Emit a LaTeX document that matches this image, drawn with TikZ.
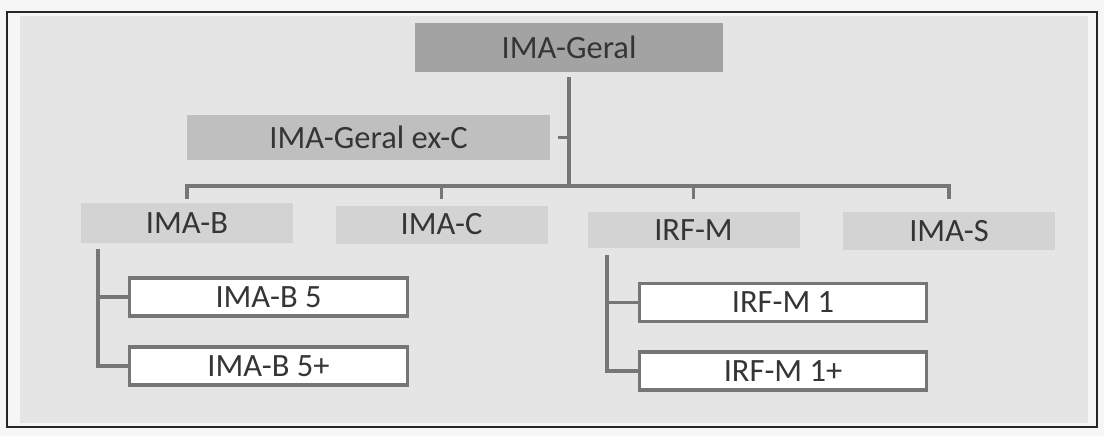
\documentclass[tikz,border=0pt]{standalone}
\usepackage{fontspec}
\setmainfont{Carlito}
\definecolor{pagebg}{HTML}{F6F6F6}
\definecolor{panelbg}{HTML}{E5E5E5}
\definecolor{topfill}{HTML}{A3A3A3}
\definecolor{midfill}{HTML}{BFBFBF}
\definecolor{lowfill}{HTML}{D3D3D3}
\definecolor{linecol}{HTML}{767676}
\definecolor{txtcol}{HTML}{353535}
\begin{document}
\begin{tikzpicture}[x=1pt,y=-1pt,
  lbl/.style={font=\fontsize{32.5}{35}\selectfont, text=txtcol, inner sep=0pt, anchor=center},
  topbox/.style={lbl, fill=topfill, minimum width=308pt, minimum height=49pt},
  midbox/.style={lbl, fill=midfill, minimum width=363pt, minimum height=45pt},
  lowbox/.style={lbl, fill=lowfill, minimum width=212pt, minimum height=38pt},
  leafbox/.style={lbl, fill=white, draw=linecol, line width=3.8pt, minimum width=284pt, minimum height=38pt},
  conn/.style={draw=linecol, line width=3.2pt}
]
\useasboundingbox (0,0) rectangle (1104,436);
\fill[pagebg] (0,0) rectangle (1104,436);
\fill[panelbg] (20,16) rectangle (1088,423);
\draw[line width=1.5pt, black!85] (7,12) rectangle (1097,427);

% level 0 and 1
\node[topbox] (g) at (569,47.5) {IMA-Geral};
\node[midbox] (exc) at (368.5,137.5) {IMA-Geral ex-C};

% level 2
\node[lowbox, minimum height=40pt] (b) at (187,223) {IMA-B};
\node[lowbox] (c) at (441.5,224.5) {IMA-C};
\node[lowbox, minimum height=36pt] (m) at (693.5,230) {IRF-M};
\node[lowbox] (s) at (949,231) {IMA-S};

% leaves
\node[leafbox, minimum width=278pt] (b5) at (268.5,297) {IMA-B 5};
\node[leafbox, minimum width=278pt] (b5p) at (268.5,366) {IMA-B 5+};
\node[leafbox, minimum width=287pt] (m1) at (783,302.5) {IRF-M 1};
\node[leafbox, minimum width=287pt] (m1p) at (783,371) {IRF-M 1+};

% connectors
\coordinate (j) at (569,186);
\coordinate (ty) at (0,199);
\coordinate (ex) at (558,137.5);
\draw[conn] ([yshift=-5pt]g.south) -- (j);
\draw[conn] (ex) -- (ex -| j);
\draw[conn] (b.north |- ty) |- (j);
\draw[conn] (c.north |- ty) |- (j);
\draw[conn] (m.north |- ty) |- (j);
\draw[conn] (s.north |- ty) |- (j);

\coordinate (bx) at (98,249);
\draw[conn] (bx) |- (b5p.west);
\draw[conn] (bx |- b5.west) -- (b5.west);
\coordinate (mx) at (607,255);
\draw[conn] (mx) |- (m1p.west);
\draw[conn] (mx |- m1.west) -- (m1.west);
\end{tikzpicture}
\end{document}
